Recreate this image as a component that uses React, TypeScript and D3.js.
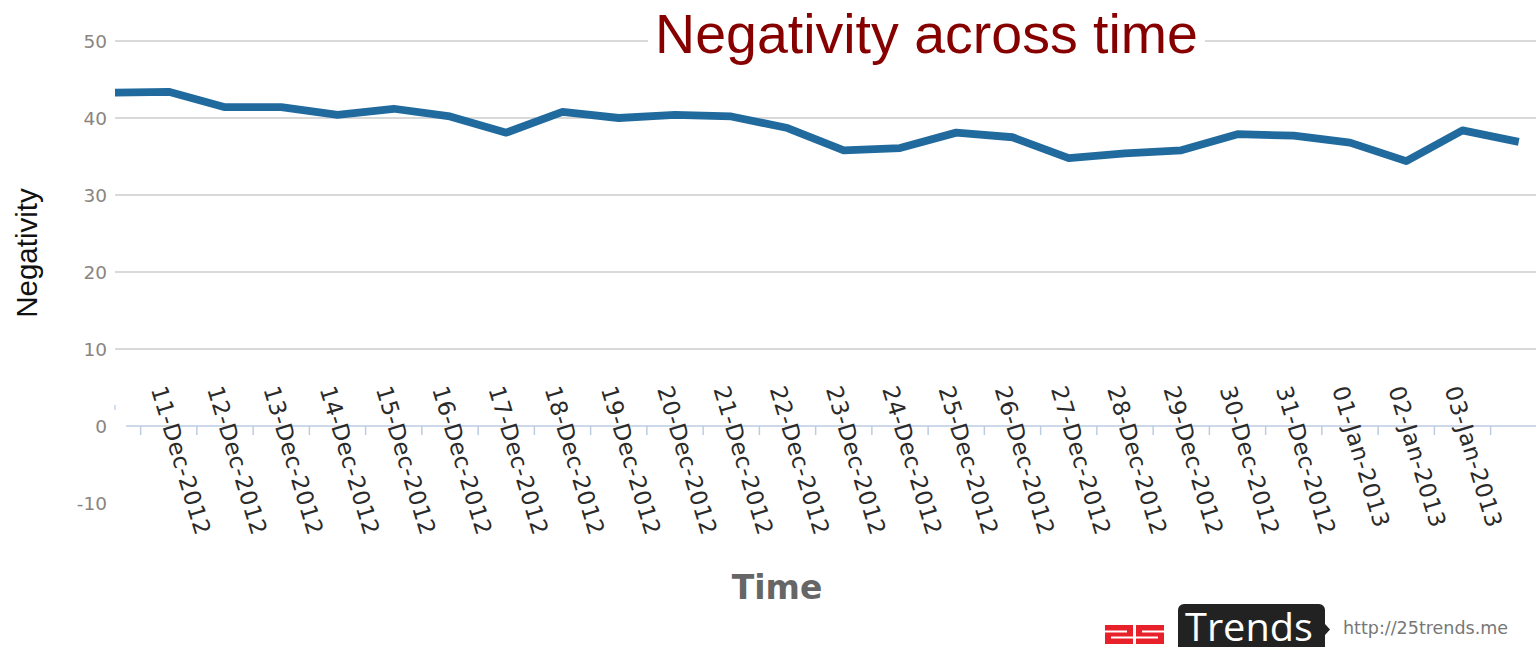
import React from "react";
import * as d3 from "d3";

const dates = [
  "10-Dec-2012", "11-Dec-2012", "12-Dec-2012", "13-Dec-2012", "14-Dec-2012",
  "15-Dec-2012", "16-Dec-2012", "17-Dec-2012", "18-Dec-2012", "19-Dec-2012",
  "20-Dec-2012", "21-Dec-2012", "22-Dec-2012", "23-Dec-2012", "24-Dec-2012",
  "25-Dec-2012", "26-Dec-2012", "27-Dec-2012", "28-Dec-2012", "29-Dec-2012",
  "30-Dec-2012", "31-Dec-2012", "01-Jan-2013", "02-Jan-2013", "03-Jan-2013",
  "04-Jan-2013",
];
const negativity = [
  43.3, 43.4, 41.4, 41.4, 40.4, 41.2, 40.2, 38.1, 40.8, 40.0,
  40.4, 40.2, 38.7, 35.8, 36.1, 38.1, 37.5, 34.8, 35.4, 35.8,
  37.9, 37.7, 36.8, 34.4, 38.4, 36.9,
];
const yTicks = [-10, 0, 10, 20, 30, 40, 50];
const gridValues = [10, 20, 30, 40, 50];
const titleText = "Negativity across time";
const yTitle = "Negativity";
const xTitle = "Time";

const W = 1536;
const H = 647;

export default function App() {
  const x = d3.scaleLinear().domain([0, dates.length - 1]).range([112.5, 1518.75]);
  const y = d3.scaleLinear().domain([-10, 50]).range([503, 41]);
  const line = d3
    .line<number>()
    .x((_, i) => x(i))
    .y((d) => y(d));
  const tickPositions = d3.range(0.5, dates.length - 1, 1);
  const labelled = dates.map((d, i) => ({ d, i })).slice(1, -1);
  const plotLeft = 115;
  const y0 = y(0);

  return (
    <div style={{ position: "fixed", left: 0, top: 0, width: W, height: H, background: "#fff" }}>
      <svg width={W} height={H} style={{ display: "block" }}>
        <defs>
          <clipPath id="plotClip">
            <rect x={plotLeft} y={0} width={W - plotLeft} height={H} />
          </clipPath>
        </defs>
        {/* gridlines */}
        {gridValues.map((v) => (
          <line key={v} x1={plotLeft} x2={W} y1={y(v)} y2={y(v)} stroke="#cccccc" strokeWidth={1.5} />
        ))}
        {/* y tick labels */}
        {yTicks.map((v) => (
          <text
            key={v}
            x={107}
            y={y(v)}
            dy="0.36em"
            textAnchor="end"
            fontFamily="DejaVu Sans"
            fontSize={18.5}
            fill="#8a8580"
          >
            {v}
          </text>
        ))}
        {/* small axis mark */}
        <line x1={plotLeft} x2={plotLeft} y1={y0 - 21} y2={y0 - 16} stroke="#c5d5e8" strokeWidth={1.5} />
        {/* x axis */}
        <line x1={126} x2={W} y1={y0} y2={y0} stroke="#bccde0" strokeWidth={1.5} />
        {tickPositions.map((t) => (
          <line key={t} x1={x(t)} x2={x(t)} y1={y0} y2={y0 + 9} stroke="#bccde0" strokeWidth={1.5} />
        ))}
        {labelled.map(({ d, i }) => (
          <text
            key={d}
            transform={`translate(${x(i) - 18},${y0 - 37}) rotate(73)`}
            fontFamily="DejaVu Sans"
            fontSize={23}
            letterSpacing={0.5}
            fill="#2a2a2a"
          >
            {d}
          </text>
        ))}
        {/* data line */}
        <path
          d={line(negativity) || ""}
          fill="none"
          stroke="#216a9e"
          strokeWidth={7.8}
          strokeLinejoin="round"
          clipPath="url(#plotClip)"
        />
        {/* title */}
        <rect x={648} y={18} width={557} height={46} fill="#fff" />
        <text
          x={926.5}
          y={53}
          textAnchor="middle"
          fontFamily="Liberation Sans, Arial"
          fontSize={55.5}
          fill="#870000"
        >
          {titleText}
        </text>
        {/* axis titles */}
        <text
          transform="translate(37,253) rotate(-90)"
          textAnchor="middle"
          fontFamily="Liberation Sans, Arial"
          fontSize={29.5}
          fill="#111"
        >
          {yTitle}
        </text>
        <text
          x={777}
          y={599}
          textAnchor="middle"
          fontFamily="DejaVu Sans"
          fontWeight="bold"
          fontSize={33}
          fill="#666"
        >
          {xTitle}
        </text>
        {/* logo */}
        <g>
          <g fill="#e8202a">
            <rect x={1105} y={625} width={28} height={19} />
            <rect x={1136} y={625} width={28} height={19} />
          </g>
          <g fill="#fff">
            <rect x={1105} y={630.5} width={22} height={2} />
            <rect x={1111} y={636.5} width={22} height={2} />
            <rect x={1142} y={630.5} width={22} height={2} />
            <rect x={1136} y={636.5} width={22} height={2} />
          </g>
          <rect x={1178} y={604} width={147} height={56} rx={6} fill="#222" />
          <path d="M1325,624 L1330,629.5 L1325,635 Z" fill="#222" />
          <text
            x={1185}
            y={641}
            fontFamily="Open Sans"
            fontSize={39}
            fill="#fff"
            textLength={128}
            lengthAdjust="spacingAndGlyphs"
          >
            Trends
          </text>
          <text x={1343} y={634} fontFamily="DejaVu Sans" fontSize={17.5} fill="#777">
            http://25trends.me
          </text>
        </g>
      </svg>
    </div>
  );
}
